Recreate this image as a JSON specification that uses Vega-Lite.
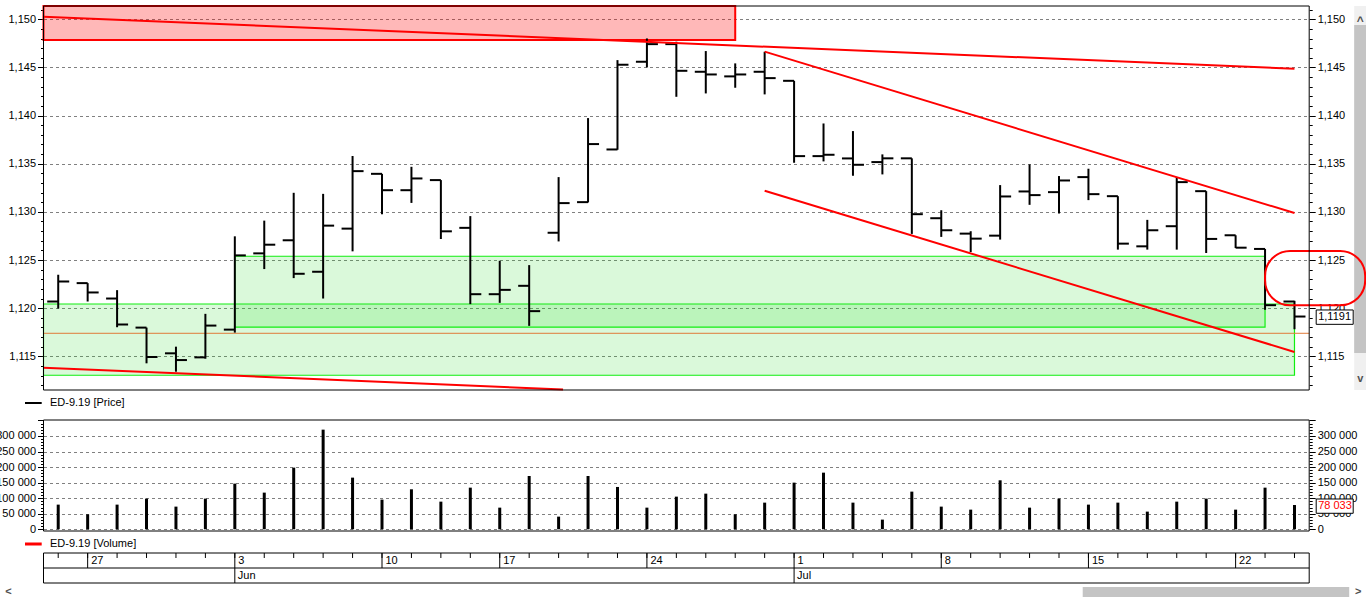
{
  "$schema": "https://vega.github.io/schema/vega-lite/v6.json",
  "width": 1366,
  "height": 598,
  "autosize": {"type": "none"},
  "padding": 0,
  "background": "#ffffff",
  "config": {
    "view": {"stroke": null},
    "font": "Liberation Sans",
    "text": {"font": "Liberation Sans", "fontSize": 11, "color": "#000000"},
    "axis": {"labelFont": "Liberation Sans", "labelFontSize": 11, "labelColor": "#000000", "tickColor": "#000000", "domain": false, "labelOverlap": false, "labelFlush": false}
  },
  "datasets": {
    "bars": [
      {"d": "2019-05-24", "o": 1.12069, "h": 1.12347, "l": 1.11996, "c": 1.12278, "v": 79300},
      {"d": "2019-05-27", "o": 1.12260, "h": 1.12260, "l": 1.12069, "c": 1.12163, "v": 48200},
      {"d": "2019-05-28", "o": 1.12100, "h": 1.12187, "l": 1.11802, "c": 1.11830, "v": 79300},
      {"d": "2019-05-29", "o": 1.11798, "h": 1.11798, "l": 1.11427, "c": 1.11493, "v": 98600},
      {"d": "2019-05-30", "o": 1.11531, "h": 1.11600, "l": 1.11340, "c": 1.11461, "v": 72900},
      {"d": "2019-05-31", "o": 1.11489, "h": 1.11941, "l": 1.11475, "c": 1.11819, "v": 98600},
      {"d": "2019-06-03", "o": 1.11777, "h": 1.12746, "l": 1.11746, "c": 1.12548, "v": 146800},
      {"d": "2019-06-04", "o": 1.12569, "h": 1.12909, "l": 1.12406, "c": 1.12659, "v": 117900},
      {"d": "2019-06-05", "o": 1.12705, "h": 1.13198, "l": 1.12312, "c": 1.12357, "v": 198200},
      {"d": "2019-06-06", "o": 1.12378, "h": 1.13187, "l": 1.12100, "c": 1.12857, "v": 320400},
      {"d": "2019-06-07", "o": 1.12826, "h": 1.13580, "l": 1.12590, "c": 1.13423, "v": 166100},
      {"d": "2019-06-10", "o": 1.13395, "h": 1.13395, "l": 1.12975, "c": 1.13225, "v": 95400},
      {"d": "2019-06-11", "o": 1.13225, "h": 1.13468, "l": 1.13093, "c": 1.13347, "v": 128600},
      {"d": "2019-06-13", "o": 1.13330, "h": 1.13330, "l": 1.12718, "c": 1.12798, "v": 88900},
      {"d": "2019-06-14", "o": 1.12834, "h": 1.12956, "l": 1.12042, "c": 1.12145, "v": 133900},
      {"d": "2019-06-17", "o": 1.12145, "h": 1.12492, "l": 1.12055, "c": 1.12190, "v": 69600},
      {"d": "2019-06-18", "o": 1.12232, "h": 1.12447, "l": 1.11816, "c": 1.11969, "v": 171400},
      {"d": "2019-06-19", "o": 1.12783, "h": 1.13361, "l": 1.12693, "c": 1.13091, "v": 40700},
      {"d": "2019-06-20", "o": 1.13101, "h": 1.13974, "l": 1.13098, "c": 1.13704, "v": 171400},
      {"d": "2019-06-21", "o": 1.13648, "h": 1.14576, "l": 1.13645, "c": 1.14528, "v": 136100},
      {"d": "2019-06-24", "o": 1.14559, "h": 1.14801, "l": 1.14500, "c": 1.14742, "v": 69600},
      {"d": "2019-06-25", "o": 1.14742, "h": 1.14767, "l": 1.14195, "c": 1.14465, "v": 105000},
      {"d": "2019-06-26", "o": 1.14455, "h": 1.14670, "l": 1.14230, "c": 1.14427, "v": 114600},
      {"d": "2019-06-27", "o": 1.14407, "h": 1.14542, "l": 1.14289, "c": 1.14427, "v": 48200},
      {"d": "2019-06-28", "o": 1.14455, "h": 1.14663, "l": 1.14220, "c": 1.14389, "v": 85700},
      {"d": "2019-07-01", "o": 1.14361, "h": 1.14361, "l": 1.13510, "c": 1.13579, "v": 150000},
      {"d": "2019-07-02", "o": 1.13579, "h": 1.13918, "l": 1.13524, "c": 1.13593, "v": 182100},
      {"d": "2019-07-03", "o": 1.13555, "h": 1.13839, "l": 1.13375, "c": 1.13489, "v": 85700},
      {"d": "2019-07-04", "o": 1.13517, "h": 1.13597, "l": 1.13389, "c": 1.13556, "v": 31100},
      {"d": "2019-07-05", "o": 1.13556, "h": 1.13556, "l": 1.12771, "c": 1.12976, "v": 121100},
      {"d": "2019-07-08", "o": 1.12934, "h": 1.13017, "l": 1.12740, "c": 1.12809, "v": 72900},
      {"d": "2019-07-09", "o": 1.12774, "h": 1.12799, "l": 1.12583, "c": 1.12722, "v": 63200},
      {"d": "2019-07-10", "o": 1.12753, "h": 1.13278, "l": 1.12712, "c": 1.13160, "v": 157500},
      {"d": "2019-07-11", "o": 1.13212, "h": 1.13493, "l": 1.13073, "c": 1.13174, "v": 69600},
      {"d": "2019-07-12", "o": 1.13205, "h": 1.13372, "l": 1.12983, "c": 1.13326, "v": 98600},
      {"d": "2019-07-15", "o": 1.13361, "h": 1.13448, "l": 1.13122, "c": 1.13184, "v": 79300},
      {"d": "2019-07-16", "o": 1.13163, "h": 1.13163, "l": 1.12608, "c": 1.12670, "v": 85700},
      {"d": "2019-07-17", "o": 1.12642, "h": 1.12917, "l": 1.12608, "c": 1.12809, "v": 56800},
      {"d": "2019-07-18", "o": 1.12851, "h": 1.13361, "l": 1.12608, "c": 1.13309, "v": 88900},
      {"d": "2019-07-19", "o": 1.13215, "h": 1.13215, "l": 1.12573, "c": 1.12719, "v": 98600},
      {"d": "2019-07-22", "o": 1.12757, "h": 1.12757, "l": 1.12625, "c": 1.12628, "v": 63200},
      {"d": "2019-07-23", "o": 1.12615, "h": 1.12615, "l": 1.11983, "c": 1.12031, "v": 133900},
      {"d": "2019-07-24", "o": 1.12069, "h": 1.12076, "l": 1.11781, "c": 1.11913, "v": 78033}
    ],
    "weeks": [
      {"d": "2019-05-27", "t": "27"}, {"d": "2019-06-03", "t": "3"}, {"d": "2019-06-10", "t": "10"},
      {"d": "2019-06-17", "t": "17"}, {"d": "2019-06-24", "t": "24"}, {"d": "2019-07-01", "t": "1"},
      {"d": "2019-07-08", "t": "8"}, {"d": "2019-07-15", "t": "15"}, {"d": "2019-07-22", "t": "22"}
    ],
    "months": [{"d": "2019-06-03", "t": "Jun"}, {"d": "2019-07-01", "t": "Jul"}],
    "span": [{"d1": "2019-05-24", "d2": "2019-07-24"}],
    "vscroll": [{"d": "2019-07-24", "lo": 1.1115, "hi": 1.15138, "tlo": 1.11534, "thi": 1.14941, "up": 1.1501, "dn": 1.11264}]
  },
  "resolve": {"scale": {"y": "independent"}, "axis": {"y": "independent"}},
  "layer": [
    {
      "resolve": {"axis": {"y": "independent"}},
      "layer": [
        {
          "data": {"name": "vscroll"},
          "mark": {"type": "rect", "color": "#f0f0f0", "opacity": 1, "xOffset": 45, "x2Offset": 57},
          "encoding": {
            "x": {"field": "d", "type": "ordinal", "bandPosition": 1, "axis": null, "scale": {"type": "band", "range": [43.5, 1309.2], "paddingInner": 0, "paddingOuter": 0}},
            "x2": {"field": "d", "bandPosition": 1},
            "y": {"field": "lo", "type": "quantitative", "axis": null, "scale": {"domain": [1.1115, 1.15138], "range": [390, 6], "nice": false, "zero": false}},
            "y2": {"field": "hi"}
          }
        },
        {
          "data": {"name": "vscroll"},
          "mark": {"type": "rect", "color": "#c4c4c4", "opacity": 1, "xOffset": 45, "x2Offset": 57},
          "encoding": {
            "x": {"field": "d", "type": "ordinal", "bandPosition": 1, "axis": null, "scale": {"type": "band", "range": [43.5, 1309.2], "paddingInner": 0, "paddingOuter": 0}},
            "x2": {"field": "d", "bandPosition": 1},
            "y": {"field": "tlo", "type": "quantitative", "axis": null, "scale": {"domain": [1.1115, 1.15138], "range": [390, 6], "nice": false, "zero": false}},
            "y2": {"field": "thi"}
          }
        },
        {
          "data": {"name": "vscroll"},
          "mark": {"type": "text", "align": "center", "baseline": "middle", "dx": 51, "dy": 3, "fontSize": 12, "fontWeight": "bold", "color": "#505050", "text": "^"},
          "encoding": {
            "x": {"field": "d", "type": "ordinal", "bandPosition": 1, "axis": null, "scale": {"type": "band", "range": [43.5, 1309.2], "paddingInner": 0, "paddingOuter": 0}},
            "y": {"field": "up", "type": "quantitative", "axis": null, "scale": {"domain": [1.1115, 1.15138], "range": [390, 6], "nice": false, "zero": false}}
          }
        },
        {
          "data": {"name": "vscroll"},
          "mark": {"type": "text", "align": "center", "baseline": "middle", "dx": 51, "fontSize": 11, "fontWeight": "bold", "color": "#505050", "text": "v"},
          "encoding": {
            "x": {"field": "d", "type": "ordinal", "bandPosition": 1, "axis": null, "scale": {"type": "band", "range": [43.5, 1309.2], "paddingInner": 0, "paddingOuter": 0}},
            "y": {"field": "dn", "type": "quantitative", "axis": null, "scale": {"domain": [1.1115, 1.15138], "range": [390, 6], "nice": false, "zero": false}}
          }
        },
        {
          "data": {"values": [{"d1": "2019-05-24", "d2": "2019-07-24", "lo": 1.11303, "hi": 1.12043}]},
          "mark": {"type": "rect", "fill": "#22dd22", "fillOpacity": 0.17, "opacity": 1, "stroke": "#11ee11", "strokeWidth": 1.2},
          "encoding": {
            "x": {"field": "d1", "type": "ordinal", "bandPosition": 0, "axis": null, "scale": {"type": "band", "range": [43.5, 1309.2], "paddingInner": 0, "paddingOuter": 0}},
            "x2": {"field": "d2", "bandPosition": 0.5},
            "y": {"field": "lo", "type": "quantitative", "axis": null, "scale": {"domain": [1.1115, 1.15138], "range": [390, 6], "nice": false, "zero": false}},
            "y2": {"field": "hi"}
          }
        },
        {
          "data": {"values": [{"d1": "2019-06-03", "d2": "2019-07-23", "lo": 1.11804, "hi": 1.12539}]},
          "mark": {"type": "rect", "fill": "#22dd22", "fillOpacity": 0.17, "opacity": 1, "stroke": "#11ee11", "strokeWidth": 1.2},
          "encoding": {
            "x": {"field": "d1", "type": "ordinal", "bandPosition": 0.5, "axis": null, "scale": {"type": "band", "range": [43.5, 1309.2], "paddingInner": 0, "paddingOuter": 0}},
            "x2": {"field": "d2", "bandPosition": 0.5},
            "y": {"field": "lo", "type": "quantitative", "axis": null, "scale": {"domain": [1.1115, 1.15138], "range": [390, 6], "nice": false, "zero": false}},
            "y2": {"field": "hi"}
          }
        },
        {
          "data": {"values": [{"d1": "2019-05-24", "d2": "2019-06-27", "lo": 1.14785, "hi": 1.15138}]},
          "mark": {"type": "rect", "fill": "#ff0000", "fillOpacity": 0.28, "opacity": 1, "stroke": "#ff0000", "strokeWidth": 2},
          "encoding": {
            "x": {"field": "d1", "type": "ordinal", "bandPosition": 0, "axis": null, "scale": {"type": "band", "range": [43.5, 1309.2], "paddingInner": 0, "paddingOuter": 0}},
            "x2": {"field": "d2", "bandPosition": 0.5},
            "y": {"field": "lo", "type": "quantitative", "axis": null, "scale": {"domain": [1.1115, 1.15138], "range": [390, 6], "nice": false, "zero": false}},
            "y2": {"field": "hi"}
          }
        },
        {
          "data": {"values": [{"d1": "2019-05-24", "d2": "2019-07-24", "p": 1.11739}]},
          "mark": {"type": "rule", "color": "#e07b39", "strokeWidth": 1},
          "encoding": {
            "x": {"field": "d1", "type": "ordinal", "bandPosition": 0, "axis": null, "scale": {"type": "band", "range": [43.5, 1309.2], "paddingInner": 0, "paddingOuter": 0}},
            "x2": {"field": "d2", "bandPosition": 1},
            "y": {"field": "p", "type": "quantitative", "axis": null, "scale": {"domain": [1.1115, 1.15138], "range": [390, 6], "nice": false, "zero": false}}
          }
        },
        {
          "data": {"name": "bars"},
          "mark": {"type": "rule", "color": "#000000", "strokeWidth": 2},
          "encoding": {
            "x": {"field": "d", "type": "ordinal", "bandPosition": 0.5, "axis": null, "scale": {"type": "band", "range": [43.5, 1309.2], "paddingInner": 0, "paddingOuter": 0}},
            "y": {
              "field": "l", "type": "quantitative",
              "scale": {"domain": [1.1115, 1.15138], "range": [390, 6], "nice": false, "zero": false},
              "axis": {
                "orient": "left", "offset": -43.5, "title": null,
                "values": [1.112,1.113,1.114,1.115,1.116,1.117,1.118,1.119,1.12,1.121,1.122,1.123,1.124,1.125,1.126,1.127,1.128,1.129,1.13,1.131,1.132,1.133,1.134,1.135,1.136,1.137,1.138,1.139,1.14,1.141,1.142,1.143,1.144,1.145,1.146,1.147,1.148,1.149,1.15,1.151],
                "labelExpr": "abs(datum.value*200 - round(datum.value*200)) < 0.01 ? replace(format(datum.value, '.3f'), '.', ',') : ''",
                "tickSize": {"condition": {"test": "abs(datum.value*200 - round(datum.value*200)) < 0.01", "value": 6}, "value": 3},
                "labelPadding": 2,
                "grid": true, "gridColor": "#808080", "gridDash": [3, 3], "gridWidth": 1,
                "gridOpacity": {"condition": {"test": "abs(datum.value*200 - round(datum.value*200)) < 0.01", "value": 1}, "value": 0}
              }
            },
            "y2": {"field": "h"}
          }
        },
        {
          "data": {"name": "bars"},
          "mark": {"type": "tick", "color": "#000000", "opacity": 1, "thickness": 2, "size": 11, "xOffset": -5.5},
          "encoding": {
            "x": {"field": "d", "type": "ordinal", "axis": null, "scale": {"type": "band", "range": [43.5, 1309.2], "paddingInner": 0, "paddingOuter": 0}},
            "y": {
              "field": "o", "type": "quantitative",
              "scale": {"domain": [1.1115, 1.15138], "range": [390, 6], "nice": false, "zero": false},
              "axis": {
                "orient": "right", "offset": -56.8, "title": null,
                "values": [1.112,1.113,1.114,1.115,1.116,1.117,1.118,1.119,1.12,1.121,1.122,1.123,1.124,1.125,1.126,1.127,1.128,1.129,1.13,1.131,1.132,1.133,1.134,1.135,1.136,1.137,1.138,1.139,1.14,1.141,1.142,1.143,1.144,1.145,1.146,1.147,1.148,1.149,1.15,1.151],
                "labelExpr": "abs(datum.value*200 - round(datum.value*200)) < 0.01 ? replace(format(datum.value, '.3f'), '.', ',') : ''",
                "tickSize": {"condition": {"test": "abs(datum.value*200 - round(datum.value*200)) < 0.01", "value": 6}, "value": 3},
                "labelPadding": 2, "grid": false
              }
            }
          }
        },
        {
          "data": {"name": "bars"},
          "mark": {"type": "tick", "color": "#000000", "opacity": 1, "thickness": 2, "size": 11, "xOffset": 5.5},
          "encoding": {
            "x": {"field": "d", "type": "ordinal", "axis": null, "scale": {"type": "band", "range": [43.5, 1309.2], "paddingInner": 0, "paddingOuter": 0}},
            "y": {"field": "c", "type": "quantitative", "axis": null, "scale": {"domain": [1.1115, 1.15138], "range": [390, 6], "nice": false, "zero": false}}
          }
        },
        {
          "data": {"values": [{"d1": "2019-05-24", "p1": 1.15027, "d2": "2019-07-24", "p2": 1.14487}]},
          "mark": {"type": "rule", "color": "#ff0000", "strokeWidth": 2},
          "encoding": {
            "x": {"field": "d1", "type": "ordinal", "bandPosition": 0, "axis": null, "scale": {"type": "band", "range": [43.5, 1309.2], "paddingInner": 0, "paddingOuter": 0}},
            "x2": {"field": "d2", "bandPosition": 0.5},
            "y": {"field": "p1", "type": "quantitative", "axis": null, "scale": {"domain": [1.1115, 1.15138], "range": [390, 6], "nice": false, "zero": false}},
            "y2": {"field": "p2"}
          }
        },
        {
          "data": {"values": [{"d1": "2019-05-24", "p1": 1.11382, "d2": "2019-06-19", "p2": 1.11155}]},
          "mark": {"type": "rule", "color": "#ff0000", "strokeWidth": 2},
          "encoding": {
            "x": {"field": "d1", "type": "ordinal", "bandPosition": 0, "axis": null, "scale": {"type": "band", "range": [43.5, 1309.2], "paddingInner": 0, "paddingOuter": 0}},
            "x2": {"field": "d2", "bandPosition": 0.65},
            "y": {"field": "p1", "type": "quantitative", "axis": null, "scale": {"domain": [1.1115, 1.15138], "range": [390, 6], "nice": false, "zero": false}},
            "y2": {"field": "p2"}
          }
        },
        {
          "data": {"values": [
            {"d1": "2019-06-28", "p1": 1.14664, "d2": "2019-07-24", "p2": 1.12988},
            {"d1": "2019-06-28", "p1": 1.13220, "d2": "2019-07-24", "p2": 1.11545}
          ]},
          "mark": {"type": "rule", "color": "#ff0000", "strokeWidth": 2},
          "encoding": {
            "x": {"field": "d1", "type": "ordinal", "bandPosition": 0.5, "axis": null, "scale": {"type": "band", "range": [43.5, 1309.2], "paddingInner": 0, "paddingOuter": 0}},
            "x2": {"field": "d2", "bandPosition": 0.5},
            "y": {"field": "p1", "type": "quantitative", "axis": null, "scale": {"domain": [1.1115, 1.15138], "range": [390, 6], "nice": false, "zero": false}},
            "y2": {"field": "p2"}
          }
        },
        {
          "data": {"values": [{"d1": "2019-07-23", "d2": "2019-07-24", "lo": 1.12030, "hi": 1.12594}]},
          "mark": {"type": "rect", "filled": false, "stroke": "#ff0000", "strokeWidth": 2, "opacity": 1, "cornerRadius": 25, "x2Offset": 56},
          "encoding": {
            "x": {"field": "d1", "type": "ordinal", "bandPosition": 0.5, "axis": null, "scale": {"type": "band", "range": [43.5, 1309.2], "paddingInner": 0, "paddingOuter": 0}},
            "x2": {"field": "d2", "bandPosition": 1},
            "y": {"field": "lo", "type": "quantitative", "axis": null, "scale": {"domain": [1.1115, 1.15138], "range": [390, 6], "nice": false, "zero": false}},
            "y2": {"field": "hi"}
          }
        },
        {
          "data": {"values": [{"d1": "2019-05-24", "d2": "2019-07-24", "lo": 1.1115, "hi": 1.15138}]},
          "mark": {"type": "rect", "filled": false, "stroke": "#000000", "strokeWidth": 1, "opacity": 1},
          "encoding": {
            "x": {"field": "d1", "type": "ordinal", "bandPosition": 0, "axis": null, "scale": {"type": "band", "range": [43.5, 1309.2], "paddingInner": 0, "paddingOuter": 0}},
            "x2": {"field": "d2", "bandPosition": 1},
            "y": {"field": "lo", "type": "quantitative", "axis": null, "scale": {"domain": [1.1115, 1.15138], "range": [390, 6], "nice": false, "zero": false}},
            "y2": {"field": "hi"}
          }
        },
        {
          "data": {"values": [{"d": "2019-07-24", "p": 1.11913, "t": "1,1191", "lo": 1.11832, "hi": 1.11981}]},
          "layer": [
            {
              "mark": {"type": "rect", "fill": "#ffffff", "stroke": "#000000", "strokeWidth": 1, "opacity": 1, "xOffset": 7, "x2Offset": 44},
              "encoding": {
                "x": {"field": "d", "type": "ordinal", "bandPosition": 1, "axis": null, "scale": {"type": "band", "range": [43.5, 1309.2], "paddingInner": 0, "paddingOuter": 0}},
                "x2": {"field": "d", "bandPosition": 1},
                "y": {"field": "lo", "type": "quantitative", "axis": null, "scale": {"domain": [1.1115, 1.15138], "range": [390, 6], "nice": false, "zero": false}},
                "y2": {"field": "hi"}
              }
            },
            {
              "mark": {"type": "text", "align": "left", "baseline": "middle", "dx": 9, "fontSize": 11, "color": "#000000"},
              "encoding": {
                "x": {"field": "d", "type": "ordinal", "bandPosition": 1, "axis": null, "scale": {"type": "band", "range": [43.5, 1309.2], "paddingInner": 0, "paddingOuter": 0}},
                "y": {"field": "p", "type": "quantitative", "axis": null, "scale": {"domain": [1.1115, 1.15138], "range": [390, 6], "nice": false, "zero": false}},
                "text": {"field": "t"}
              }
            }
          ]
        },
        {
          "data": {"values": [{"d": "2019-05-24", "t": "ED-9.19 [Price]", "p": 1.11015}]},
          "layer": [
            {
              "mark": {"type": "rule", "color": "#000000", "strokeWidth": 2, "xOffset": -18.5, "x2Offset": -1.8},
              "encoding": {
                "x": {"field": "d", "type": "ordinal", "bandPosition": 0, "axis": null, "scale": {"type": "band", "range": [43.5, 1309.2], "paddingInner": 0, "paddingOuter": 0}},
                "x2": {"field": "d", "bandPosition": 0},
                "y": {"field": "p", "type": "quantitative", "axis": null, "scale": {"domain": [1.1115, 1.15138], "range": [390, 6], "nice": false, "zero": false}}
              }
            },
            {
              "mark": {"type": "text", "align": "left", "baseline": "middle", "dx": 6.5, "fontSize": 11, "color": "#000000"},
              "encoding": {
                "x": {"field": "d", "type": "ordinal", "bandPosition": 0, "axis": null, "scale": {"type": "band", "range": [43.5, 1309.2], "paddingInner": 0, "paddingOuter": 0}},
                "y": {"field": "p", "type": "quantitative", "axis": null, "scale": {"domain": [1.1115, 1.15138], "range": [390, 6], "nice": false, "zero": false}},
                "text": {"field": "t"}
              }
            }
          ]
        },
        {
          "mark": {"type": "rule", "color": "#a0a0a0", "strokeWidth": 2},
          "encoding": {
            "y": {"datum": 1.10908, "type": "quantitative", "axis": null, "scale": {"domain": [1.1115, 1.15138], "range": [390, 6], "nice": false, "zero": false}}
          }
        }
      ]
    },
    {
      "resolve": {"axis": {"y": "independent"}},
      "layer": [
        {
          "data": {"name": "bars"},
          "mark": {"type": "rule", "color": "#000000", "strokeWidth": 3},
          "encoding": {
            "x": {"field": "d", "type": "ordinal", "bandPosition": 0.5, "axis": null, "scale": {"type": "band", "range": [43.5, 1309.2], "paddingInner": 0, "paddingOuter": 0}},
            "y": {
              "field": "v", "type": "quantitative",
              "scale": {"domain": [-5500, 351400], "range": [531, 420], "nice": false, "zero": false},
              "axis": {
                "orient": "left", "offset": -43.5, "title": null,
                "values": [0,10000,20000,30000,40000,50000,60000,70000,80000,90000,100000,110000,120000,130000,140000,150000,160000,170000,180000,190000,200000,210000,220000,230000,240000,250000,260000,270000,280000,290000,300000,310000,320000,330000,340000,350000],
                "labelExpr": "datum.value % 50000 == 0 && datum.value <= 300000 ? replace(format(datum.value, ','), ',', ' ') : ''",
                "tickSize": {"condition": {"test": "datum.value % 50000 == 0", "value": 6}, "value": 3},
                "labelPadding": 2,
                "grid": true, "gridColor": "#808080", "gridDash": [3, 3], "gridWidth": 1,
                "gridOpacity": {"condition": {"test": "datum.value % 50000 == 0 && datum.value <= 300000", "value": 1}, "value": 0}
              }
            },
            "y2": {"datum": 0}
          }
        },
        {
          "data": {"values": [{"d1": "2019-05-24", "d2": "2019-07-24", "lo": -5500, "hi": 351400}]},
          "mark": {"type": "rect", "filled": false, "stroke": "#000000", "strokeWidth": 1, "opacity": 1},
          "encoding": {
            "x": {"field": "d1", "type": "ordinal", "bandPosition": 0, "axis": null, "scale": {"type": "band", "range": [43.5, 1309.2], "paddingInner": 0, "paddingOuter": 0}},
            "x2": {"field": "d2", "bandPosition": 1},
            "y": {
              "field": "lo", "type": "quantitative",
              "scale": {"domain": [-5500, 351400], "range": [531, 420], "nice": false, "zero": false},
              "axis": {
                "orient": "right", "offset": -56.8, "title": null,
                "values": [0,10000,20000,30000,40000,50000,60000,70000,80000,90000,100000,110000,120000,130000,140000,150000,160000,170000,180000,190000,200000,210000,220000,230000,240000,250000,260000,270000,280000,290000,300000,310000,320000,330000,340000,350000],
                "labelExpr": "datum.value % 50000 == 0 && datum.value <= 300000 ? replace(format(datum.value, ','), ',', ' ') : ''",
                "tickSize": {"condition": {"test": "datum.value % 50000 == 0", "value": 6}, "value": 3},
                "labelPadding": 2, "grid": false
              }
            },
            "y2": {"field": "hi"}
          }
        },
        {
          "data": {"values": [{"d": "2019-07-24", "v": 74440, "t": "78 033", "lo": 51450, "hi": 97430}]},
          "layer": [
            {
              "mark": {"type": "rect", "fill": "#ffffff", "stroke": "#000000", "strokeWidth": 1, "opacity": 1, "xOffset": 7, "x2Offset": 44},
              "encoding": {
                "x": {"field": "d", "type": "ordinal", "bandPosition": 1, "axis": null, "scale": {"type": "band", "range": [43.5, 1309.2], "paddingInner": 0, "paddingOuter": 0}},
                "x2": {"field": "d", "bandPosition": 1},
                "y": {"field": "lo", "type": "quantitative", "axis": null, "scale": {"domain": [-5500, 351400], "range": [531, 420], "nice": false, "zero": false}},
                "y2": {"field": "hi"}
              }
            },
            {
              "mark": {"type": "text", "align": "left", "baseline": "middle", "dx": 9, "fontSize": 11, "color": "#ff0000"},
              "encoding": {
                "x": {"field": "d", "type": "ordinal", "bandPosition": 1, "axis": null, "scale": {"type": "band", "range": [43.5, 1309.2], "paddingInner": 0, "paddingOuter": 0}},
                "y": {"field": "v", "type": "quantitative", "axis": null, "scale": {"domain": [-5500, 351400], "range": [531, 420], "nice": false, "zero": false}},
                "text": {"field": "t"}
              }
            }
          ]
        },
        {
          "data": {"values": [{"d": "2019-05-24", "t": "ED-9.19 [Volume]", "v": -47300}]},
          "layer": [
            {
              "mark": {"type": "rule", "color": "#ff0000", "strokeWidth": 3, "xOffset": -18.5, "x2Offset": -1.8},
              "encoding": {
                "x": {"field": "d", "type": "ordinal", "bandPosition": 0, "axis": null, "scale": {"type": "band", "range": [43.5, 1309.2], "paddingInner": 0, "paddingOuter": 0}},
                "x2": {"field": "d", "bandPosition": 0},
                "y": {"field": "v", "type": "quantitative", "axis": null, "scale": {"domain": [-5500, 351400], "range": [531, 420], "nice": false, "zero": false}}
              }
            },
            {
              "mark": {"type": "text", "align": "left", "baseline": "middle", "dx": 6.5, "fontSize": 11, "color": "#000000"},
              "encoding": {
                "x": {"field": "d", "type": "ordinal", "bandPosition": 0, "axis": null, "scale": {"type": "band", "range": [43.5, 1309.2], "paddingInner": 0, "paddingOuter": 0}},
                "y": {"field": "v", "type": "quantitative", "axis": null, "scale": {"domain": [-5500, 351400], "range": [531, 420], "nice": false, "zero": false}},
                "text": {"field": "t"}
              }
            }
          ]
        }
      ]
    },
    {
      "layer": [
        {
          "mark": {"type": "rect", "color": "#f0f0f0", "opacity": 1},
          "encoding": {
            "y": {"datum": -0.2, "type": "quantitative", "axis": null, "scale": {"domain": [0, 2], "range": [583, 553], "nice": false, "zero": false}},
            "y2": {"datum": -1.2}
          }
        },
        {
          "data": {"values": [{"d1": "2019-07-15", "d2": "2019-07-24"}]},
          "mark": {"type": "rect", "color": "#c4c4c4", "opacity": 1, "xOffset": 9, "x2Offset": 40},
          "encoding": {
            "x": {"field": "d1", "type": "ordinal", "bandPosition": 0, "axis": null, "scale": {"type": "band", "range": [43.5, 1309.2], "paddingInner": 0, "paddingOuter": 0}},
            "x2": {"field": "d2", "bandPosition": 1},
            "y": {"datum": -0.27, "type": "quantitative", "axis": null, "scale": {"domain": [0, 2], "range": [583, 553], "nice": false, "zero": false}},
            "y2": {"datum": -0.93}
          }
        },
        {
          "data": {"values": [{"d1": "2019-05-24", "d2": "2019-07-24"}]},
          "layer": [
            {
              "mark": {"type": "text", "align": "center", "baseline": "middle", "dx": -35, "fontSize": 11, "fontWeight": "bold", "color": "#505050", "text": "<"},
              "encoding": {
                "x": {"field": "d1", "type": "ordinal", "bandPosition": 0, "axis": null, "scale": {"type": "band", "range": [43.5, 1309.2], "paddingInner": 0, "paddingOuter": 0}},
                "y": {"datum": -0.6, "type": "quantitative", "axis": null, "scale": {"domain": [0, 2], "range": [583, 553], "nice": false, "zero": false}}
              }
            },
            {
              "mark": {"type": "text", "align": "center", "baseline": "middle", "dx": 49, "fontSize": 11, "fontWeight": "bold", "color": "#505050", "text": ">"},
              "encoding": {
                "x": {"field": "d2", "type": "ordinal", "bandPosition": 1, "axis": null, "scale": {"type": "band", "range": [43.5, 1309.2], "paddingInner": 0, "paddingOuter": 0}},
                "y": {"datum": -0.6, "type": "quantitative", "axis": null, "scale": {"domain": [0, 2], "range": [583, 553], "nice": false, "zero": false}}
              }
            }
          ]
        },
        {
          "data": {"name": "span"},
          "mark": {"type": "rect", "filled": false, "stroke": "#000000", "strokeWidth": 1, "opacity": 1},
          "encoding": {
            "x": {"field": "d1", "type": "ordinal", "bandPosition": 0, "axis": null, "scale": {"type": "band", "range": [43.5, 1309.2], "paddingInner": 0, "paddingOuter": 0}},
            "x2": {"field": "d2", "bandPosition": 1},
            "y": {"datum": 0, "type": "quantitative", "axis": null, "scale": {"domain": [0, 2], "range": [583, 553], "nice": false, "zero": false}},
            "y2": {"datum": 2}
          }
        },
        {
          "data": {"name": "span"},
          "mark": {"type": "rule", "color": "#000000", "strokeWidth": 1},
          "encoding": {
            "x": {"field": "d1", "type": "ordinal", "bandPosition": 0, "axis": null, "scale": {"type": "band", "range": [43.5, 1309.2], "paddingInner": 0, "paddingOuter": 0}},
            "x2": {"field": "d2", "bandPosition": 1},
            "y": {"datum": 1, "type": "quantitative", "axis": null, "scale": {"domain": [0, 2], "range": [583, 553], "nice": false, "zero": false}}
          }
        },
        {
          "data": {"name": "bars"},
          "mark": {"type": "rule", "color": "#000000", "strokeWidth": 1},
          "encoding": {
            "x": {"field": "d", "type": "ordinal", "bandPosition": 0.5, "axis": null, "scale": {"type": "band", "range": [43.5, 1309.2], "paddingInner": 0, "paddingOuter": 0}},
            "y": {"datum": 2, "type": "quantitative", "axis": null, "scale": {"domain": [0, 2], "range": [583, 553], "nice": false, "zero": false}},
            "y2": {"datum": 1.667}
          }
        },
        {
          "data": {"name": "weeks"},
          "layer": [
            {
              "mark": {"type": "rule", "color": "#000000", "strokeWidth": 1},
              "encoding": {
                "x": {"field": "d", "type": "ordinal", "bandPosition": 0.5, "axis": null, "scale": {"type": "band", "range": [43.5, 1309.2], "paddingInner": 0, "paddingOuter": 0}},
                "y": {"datum": 2, "type": "quantitative", "axis": null, "scale": {"domain": [0, 2], "range": [583, 553], "nice": false, "zero": false}},
                "y2": {"datum": 1}
              }
            },
            {
              "mark": {"type": "text", "align": "left", "baseline": "middle", "dx": 3.5, "fontSize": 11, "color": "#000000"},
              "encoding": {
                "x": {"field": "d", "type": "ordinal", "bandPosition": 0.5, "axis": null, "scale": {"type": "band", "range": [43.5, 1309.2], "paddingInner": 0, "paddingOuter": 0}},
                "y": {"datum": 1.45, "type": "quantitative", "axis": null, "scale": {"domain": [0, 2], "range": [583, 553], "nice": false, "zero": false}},
                "text": {"field": "t"}
              }
            }
          ]
        },
        {
          "data": {"name": "months"},
          "layer": [
            {
              "mark": {"type": "rule", "color": "#000000", "strokeWidth": 1},
              "encoding": {
                "x": {"field": "d", "type": "ordinal", "bandPosition": 0.5, "axis": null, "scale": {"type": "band", "range": [43.5, 1309.2], "paddingInner": 0, "paddingOuter": 0}},
                "y": {"datum": 1, "type": "quantitative", "axis": null, "scale": {"domain": [0, 2], "range": [583, 553], "nice": false, "zero": false}},
                "y2": {"datum": 0}
              }
            },
            {
              "mark": {"type": "text", "align": "left", "baseline": "middle", "dx": 3, "fontSize": 11, "color": "#000000"},
              "encoding": {
                "x": {"field": "d", "type": "ordinal", "bandPosition": 0.5, "axis": null, "scale": {"type": "band", "range": [43.5, 1309.2], "paddingInner": 0, "paddingOuter": 0}},
                "y": {"datum": 0.45, "type": "quantitative", "axis": null, "scale": {"domain": [0, 2], "range": [583, 553], "nice": false, "zero": false}},
                "text": {"field": "t"}
              }
            }
          ]
        }
      ]
    }
  ]
}
